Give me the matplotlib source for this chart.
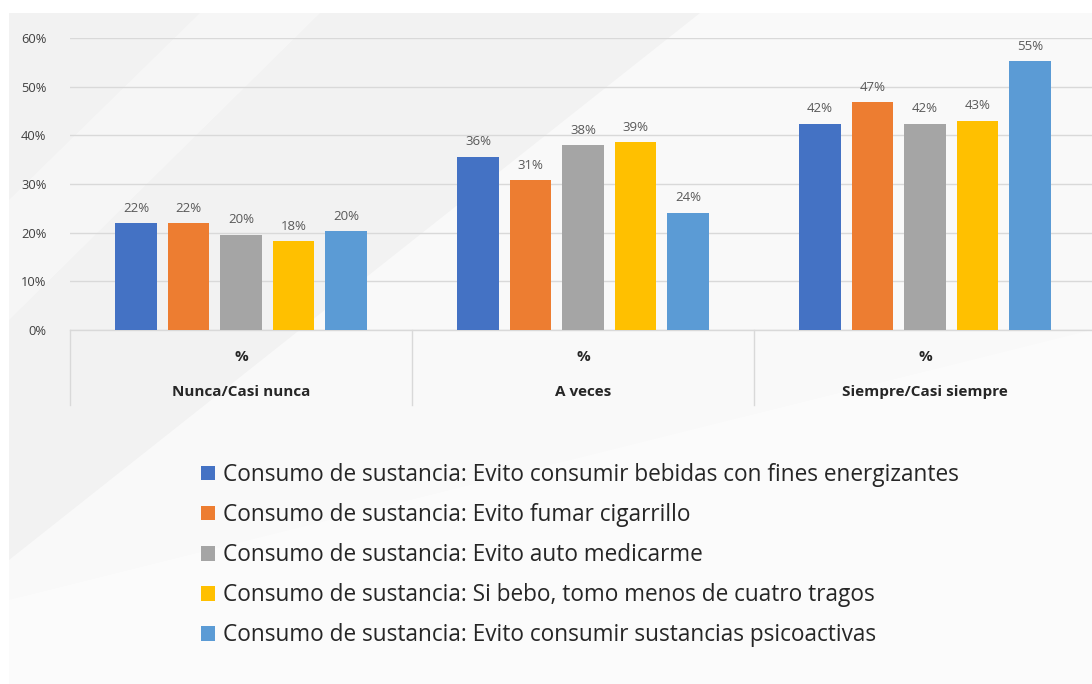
import matplotlib
matplotlib.use("Agg")
import matplotlib.pyplot as plt
from matplotlib.patches import Rectangle, Polygon
from matplotlib.transforms import blended_transform_factory
import numpy as np

plt.rcParams["font.family"] = ["Open Sans", "DejaVu Sans"]

categories = ["Nunca/Casi nunca", "A veces", "Siempre/Casi siempre"]
sub_label = "%"
series_names = [
    "Consumo de sustancia: Evito consumir bebidas con fines energizantes",
    "Consumo de sustancia: Evito fumar cigarrillo",
    "Consumo de sustancia: Evito auto medicarme",
    "Consumo de sustancia: Si bebo, tomo menos de cuatro tragos",
    "Consumo de sustancia: Evito consumir sustancias psicoactivas",
]
energizantes = [22.0, 35.6, 42.4]
cigarrillo = [22.0, 30.8, 46.8]
automedicacion = [19.6, 38.0, 42.4]
tragos = [18.2, 38.6, 43.0]
psicoactivas = [20.3, 24.1, 55.2]
series_values = [energizantes, cigarrillo, automedicacion, tragos, psicoactivas]
colors = ["#4472C4", "#ED7D31", "#A5A5A5", "#FFC000", "#5B9BD5"]
y_ticks = [0, 10, 20, 30, 40, 50, 60]

W, H = 1092, 684
fig = plt.figure(figsize=(W / 100, H / 100), dpi=100)
fig.patch.set_facecolor("white")

# pale grey backdrop with soft diagonal light bands
bg = fig.add_axes([0, 0, 1, 1], zorder=-10)
bg.set_xlim(0, W)
bg.set_ylim(H, 0)
bg.axis("off")
bg.add_patch(Rectangle((9, 13), W - 9, H - 13, facecolor="#f2f2f2", edgecolor="none"))
for pts, a in [
    ([(9, 684), (9, 560), (700, 13), (1092, 13), (1092, 684)], 0.55),
    ([(9, 684), (9, 600), (1092, 330), (1092, 684)], 0.45),
    ([(9, 200), (200, 13), (320, 13), (9, 320)], 0.35),
]:
    bg.add_patch(Polygon(pts, closed=True, facecolor="white", edgecolor="none", alpha=a))

left, right = 70 / W, 1096 / W
bottom, top = (H - 330) / H, (H - 38) / H
ax = fig.add_axes([left, bottom, right - left, top - bottom])
ax.set_facecolor("none")

x = np.arange(len(categories))
bar_w = 0.12
step = 0.1535
containers = []
for i, (vals, col, name) in enumerate(zip(series_values, colors, series_names)):
    bc = ax.bar(x + (i - 2) * step, vals, width=bar_w, color=col, label=name, zorder=3)
    containers.append(bc)
    ax.bar_label(bc, labels=[f"{v:.0f}%" for v in vals], padding=6,
                 fontsize=9.5, color="#595959")

ax.set_xlim(-0.5, len(categories) - 0.5)
ax.set_ylim(0, 60)
ax.set_yticks(y_ticks)
ax.set_yticklabels([f"{t}%" for t in y_ticks], fontsize=9.3, color="#404040")
ax.tick_params(axis="y", length=0, pad=17)
ax.set_xticks([])
ax.grid(axis="y", color="#d9d9d9", linewidth=1, zorder=0)
for s in ["left", "right", "top"]:
    ax.spines[s].set_visible(False)
ax.spines["bottom"].set_color("#d9d9d9")
ax.spines["bottom"].set_linewidth(1)

# two-level category axis
tr = blended_transform_factory(ax.transData, ax.transAxes)
depth = -75 / 292
for xb in np.arange(len(categories) + 1) - 0.5:
    ax.plot([xb, xb], [0, depth], transform=tr, color="#d9d9d9", lw=1, clip_on=False)
for xi, cat in zip(x, categories):
    ax.text(xi, -27 / 292, sub_label, transform=tr, ha="center", va="center",
            fontsize=11, fontweight="bold", color="#262626")
    ax.text(xi, -62 / 292, cat, transform=tr, ha="center", va="center",
            fontsize=11, fontweight="bold", color="#262626")

leg = fig.legend(handles=containers, labels=series_names, loc="upper left",
                 bbox_to_anchor=(201 / W, 1 - 463 / H), frameon=False,
                 borderpad=0, borderaxespad=0,
                 fontsize=16.3, handlelength=0.62, handleheight=0.62,
                 handletextpad=0.33, labelspacing=0.71, labelcolor="#262626")

fig.savefig("out.png", dpi=100, facecolor=fig.get_facecolor())
